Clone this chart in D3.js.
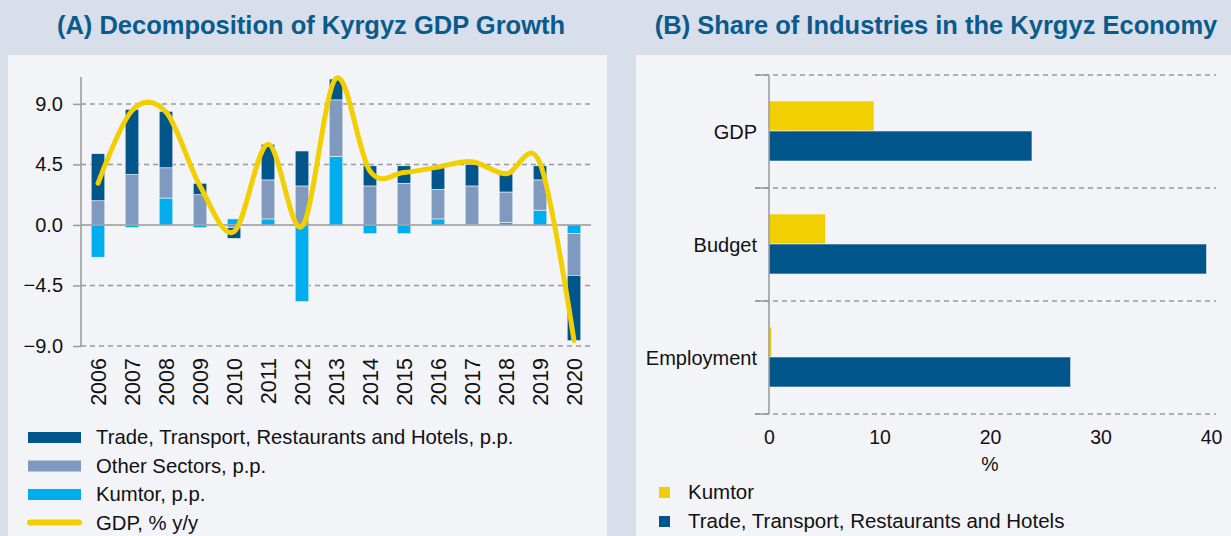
<!DOCTYPE html>
<html>
<head>
<meta charset="utf-8">
<script src="https://cdn.jsdelivr.net/npm/d3@7"></script>
<style>
  body { margin: 0; background: #d8dfea; }
  svg { display: block; font-family: "Liberation Sans", Arial, sans-serif; }
</style>
</head>
<body>
<svg id="chart" width="1231" height="536"></svg>
<script>
var years = ["2006","2007","2008","2009","2010","2011","2012","2013","2014","2015","2016","2017","2018","2019","2020"];
var kumtor = [-2.4, -0.2, 2.0, -0.2, 0.45, 0.45, -5.7, 5.1, -0.65, -0.65, 0.45, 0.05, 0.2, 1.1, -0.65];
var otherSectors = [1.8, 3.75, 2.25, 2.25, -0.2, 2.9, 2.9, 4.2, 2.9, 3.1, 2.2, 2.85, 2.25, 2.25, -3.1];
var trade = [3.5, 4.85, 4.2, 0.85, -0.8, 2.65, 2.6, 1.55, 1.5, 1.3, 1.65, 1.6, 1.35, 1.05, -4.85];
var gdpGrowth = [3.1, 8.5, 8.4, 2.9, -0.5, 6.0, -0.1, 10.9, 4.0, 3.9, 4.3, 4.7, 3.8, 4.6, -8.6];
var yTicks = [-9.0, -4.5, 0.0, 4.5, 9.0];

var shareCats = ["GDP", "Budget", "Employment"];
var shareKumtor = [9.5, 5.1, 0.25];
var shareTrade = [23.8, 39.6, 27.3];
var shareTicks = [0, 10, 20, 30, 40];

var C = {
  trade: "#00568a",
  other: "#7f99bf",
  kumtor: "#00aeef",
  yellow: "#f2cf00",
  title: "#0b5a8c",
  grid: "#999999",
  panel: "#f2f4f8"
};

var svg = d3.select("#chart");

// panels
svg.append("rect").attr("x", 8).attr("y", 55).attr("width", 599).attr("height", 481).attr("fill", C.panel);
svg.append("rect").attr("x", 636).attr("y", 55).attr("width", 595).attr("height", 481).attr("fill", C.panel);

svg.append("text").attr("x", 311).attr("y", 34).attr("text-anchor", "middle")
  .attr("font-size", 25.5).attr("font-weight", "bold").attr("fill", C.title)
  .text("(A) Decomposition of Kyrgyz GDP Growth");
svg.append("text").attr("x", 936).attr("y", 34).attr("text-anchor", "middle")
  .attr("font-size", 25.5).attr("font-weight", "bold").attr("fill", C.title)
  .text("(B) Share of Industries in the Kyrgyz Economy");

// ---------- panel A ----------
var rows = years.map(function (y, i) {
  return { year: y, kumtor: kumtor[i], other: otherSectors[i], trade: trade[i] };
});
var x = d3.scaleBand().domain(years).range([81, 591]).paddingInner(0.6).paddingOuter(0.3);
var y = d3.scaleLinear().domain([-9, 11]).range([346, 77]);

var gA = svg.append("g");

gA.append("g").selectAll("line").data(yTicks.filter(function (d) { return d !== 0; })).join("line")
  .attr("x1", 81).attr("x2", 591)
  .attr("y1", function (d) { return y(d); }).attr("y2", function (d) { return y(d); })
  .attr("stroke", C.grid).attr("stroke-width", 1.5).attr("stroke-dasharray", "5,4");

var yAxis = gA.append("g").attr("transform", "translate(81,0)")
  .call(d3.axisLeft(y).tickValues(yTicks).tickFormat(d3.format(".1f")).tickSize(8).tickPadding(10));
yAxis.select(".domain").attr("stroke", C.grid).attr("stroke-width", 1.5).attr("d", "M0," + y(11) + "V" + y(-9));
yAxis.selectAll(".tick line").attr("stroke", C.grid).attr("stroke-width", 1.5);
yAxis.selectAll(".tick text").attr("font-size", 20).attr("fill", "#111")
  .attr("font-family", "Liberation Sans, Arial, sans-serif");

var stack = d3.stack().keys(["kumtor", "other", "trade"]).offset(d3.stackOffsetDiverging);
var series = stack(rows);
var colorA = { kumtor: C.kumtor, other: C.other, trade: C.trade };

gA.append("g").selectAll("g").data(series).join("g")
  .attr("fill", function (s) { return colorA[s.key]; })
  .selectAll("rect").data(function (s) { return s; }).join("rect")
  .attr("x", function (d) { return x(d.data.year); })
  .attr("width", x.bandwidth())
  .attr("y", function (d) { return y(Math.max(d[0], d[1])); })
  .attr("height", function (d) { return Math.abs(y(d[0]) - y(d[1])); })
  .attr("stroke", C.panel).attr("stroke-width", 0.6);

gA.append("line").attr("x1", 81).attr("x2", 591).attr("y1", y(0)).attr("y2", y(0))
  .attr("stroke", C.grid).attr("stroke-width", 1.5);

var line = d3.line()
  .x(function (d, i) { return x(years[i]) + x.bandwidth() / 2; })
  .y(function (d) { return y(d); })
  .curve(d3.curveCardinal.tension(0));
gA.append("path").datum(gdpGrowth).attr("d", line)
  .attr("fill", "none").attr("stroke", C.yellow).attr("stroke-width", 5)
  .attr("stroke-linecap", "round").attr("stroke-linejoin", "round");

var xAxis = gA.append("g").attr("transform", "translate(0,346)")
  .call(d3.axisBottom(x).tickSize(0).tickPadding(0));
xAxis.select(".domain").remove();
xAxis.selectAll(".tick text")
  .attr("transform", "rotate(-90)")
  .attr("text-anchor", "end").attr("x", -12).attr("y", 0).attr("dy", "0.35em")
  .attr("font-size", 21.5).attr("fill", "#111")
  .attr("font-family", "Liberation Sans, Arial, sans-serif");

var legA = [
  { label: "Trade, Transport, Restaurants and Hotels, p.p.", color: C.trade, type: "rect" },
  { label: "Other Sectors, p.p.", color: C.other, type: "rect" },
  { label: "Kumtor, p.p.", color: C.kumtor, type: "rect" },
  { label: "GDP, % y/y", color: C.yellow, type: "line" }
];
var lgA = gA.append("g").selectAll("g").data(legA).join("g")
  .attr("transform", function (d, i) { return "translate(28," + (437 + i * 28.5) + ")"; });
lgA.filter(function (d) { return d.type === "rect"; }).append("rect")
  .attr("x", 0).attr("y", -5).attr("width", 53).attr("height", 11).attr("fill", function (d) { return d.color; });
lgA.filter(function (d) { return d.type === "line"; }).append("line")
  .attr("x1", 2).attr("x2", 51).attr("y1", 0).attr("y2", 0)
  .attr("stroke", function (d) { return d.color; }).attr("stroke-width", 6).attr("stroke-linecap", "round");
lgA.append("text").attr("x", 68).attr("y", 0).attr("dy", "0.35em")
  .attr("font-size", 20.3).attr("fill", "#111").text(function (d) { return d.label; });

// ---------- panel B ----------
var yB = d3.scaleBand().domain(shareCats).range([75, 414]);
var xB = d3.scaleLinear().domain([0, 40]).range([769, 1211]);
var sub = d3.scaleBand().domain(["kumtor", "trade"]).range([26, yB.bandwidth() - 27]).padding(0);

var gB = svg.append("g");
var gridB = yB.domain().map(function (c) { return yB(c); }).concat([414]);
gB.append("g").selectAll("line").data(gridB).join("line")
  .attr("x1", 755).attr("x2", 1216)
  .attr("y1", function (d) { return d; }).attr("y2", function (d) { return d; })
  .attr("stroke", C.grid).attr("stroke-width", 1.5).attr("stroke-dasharray", "5,4");

var rowsB = shareCats.map(function (c, i) { return { cat: c, kumtor: shareKumtor[i], trade: shareTrade[i] }; });
var colorB = { kumtor: C.yellow, trade: C.trade };
gB.append("g").selectAll("g").data(rowsB).join("g")
  .attr("transform", function (d) { return "translate(0," + yB(d.cat) + ")"; })
  .selectAll("rect").data(function (d) { return ["kumtor", "trade"].map(function (k) { return { key: k, value: d[k] }; }); })
  .join("rect")
  .attr("x", xB(0)).attr("y", function (d) { return sub(d.key); })
  .attr("width", function (d) { return xB(d.value) - xB(0); })
  .attr("height", sub.bandwidth())
  .attr("fill", function (d) { return colorB[d.key]; })
  .attr("stroke", C.panel).attr("stroke-width", 0.6);

gB.append("line").attr("x1", 769).attr("x2", 769).attr("y1", 75).attr("y2", 414)
  .attr("stroke", C.grid).attr("stroke-width", 1.5);
gB.append("g").selectAll("line").data(gridB).join("line")
  .attr("x1", 755).attr("x2", 769)
  .attr("y1", function (d) { return d; }).attr("y2", function (d) { return d; })
  .attr("stroke", C.grid).attr("stroke-width", 1.5);

gB.append("g").selectAll("text").data(shareCats).join("text")
  .attr("x", 757).attr("y", function (d) { return yB(d) + yB.bandwidth() / 2; }).attr("dy", "0.35em")
  .attr("text-anchor", "end").attr("font-size", 20).attr("fill", "#111").text(function (d) { return d; });

var xAxisB = gB.append("g").attr("transform", "translate(0,414)")
  .call(d3.axisBottom(xB).tickValues(shareTicks).tickSize(0).tickPadding(16));
xAxisB.select(".domain").remove();
xAxisB.selectAll(".tick text").attr("font-size", 19.5).attr("fill", "#111")
  .attr("font-family", "Liberation Sans, Arial, sans-serif");
gB.append("text").attr("x", xB(20)).attr("y", 471).attr("text-anchor", "middle")
  .attr("font-size", 19.5).attr("fill", "#111").text("%");

var legB = [
  { label: "Kumtor", color: C.yellow },
  { label: "Trade, Transport, Restaurants and Hotels", color: C.trade }
];
var lgB = gB.append("g").selectAll("g").data(legB).join("g")
  .attr("transform", function (d, i) { return "translate(659," + (492 + i * 29) + ")"; });
lgB.append("rect").attr("x", 0).attr("y", -5).attr("width", 11).attr("height", 11).attr("fill", function (d) { return d.color; });
lgB.append("text").attr("x", 29).attr("y", 0).attr("dy", "0.35em")
  .attr("font-size", 20.5).attr("fill", "#111").text(function (d) { return d.label; });
</script>
</body>
</html>
